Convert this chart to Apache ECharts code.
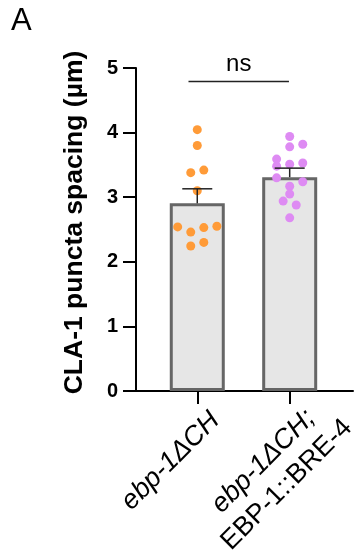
<!DOCTYPE html>
<html>
<head>
<meta charset="utf-8">
<script src="https://cdn.jsdelivr.net/npm/echarts@6/dist/echarts.min.js"></script>
<style>
html,body{margin:0;padding:0;background:#fff;}
#chart{width:357px;height:554px;}
</style>
</head>
<body>
<div id="chart"></div>
<script>
// ---- data ----
const categories = ['ebp-1ΔCH', 'ebp-1ΔCH;|EBP-1::BRE-4'];
const barMeans = [2.905, 3.31];
const barSEM = [0.225, 0.14];
const groupAValues = [4.045, 3.80, 3.38, 3.42, 3.10, 2.54, 2.46, 2.53, 2.55, 2.245, 2.30];
const groupASlots  = [0, 0, -1, 1, 0, -3, -1, 1, 3, -1, 1];
const groupBValues = [3.94, 3.78, 3.82, 3.59, 3.48, 3.51, 3.53, 3.30, 3.24, 3.17, 3.05, 2.94, 2.88, 2.68];
const groupBSlots  = [0, 0, 2, -2, -2, 0, 2, -2, 2, 0, 0, -1, 1, 0];
const yTicks = [0, 1, 2, 3, 4, 5];
const sigText = 'ns';
const sigLevel = 4.79;
const yTitle = 'CLA-1 puncta spacing (µm)';
const panelLabel = 'A';

const SLOT = 0.0707; // jitter step in category units
const FONT = 'Liberation Sans, Arial, Helvetica, sans-serif';
const X_MIN = -0.663, X_MAX = 1.685;

const chart = echarts.init(document.getElementById('chart'), null, {renderer: 'canvas'});

const barData = barMeans.map((v, i) => [i, v]);
const errData = barMeans.map((v, i) => [i, v, v + barSEM[i]]);
const ptsA = groupAValues.map((v, i) => [0 + groupASlots[i] * SLOT, v]);
const ptsB = groupBValues.map((v, i) => [1 + groupBSlots[i] * SLOT, v]);

function labelText(i) {
  const parts = categories[i].split('|');
  if (parts.length === 1) return '{a|' + parts[0] + '}';
  return '{a|' + parts[0] + '}\n{c|' + parts[1] + '}';
}
const richStyles = {
  a: {fontFamily: FONT, fontSize: 27, fontStyle: 'italic', color: '#000', lineHeight: 33},
  c: {fontFamily: FONT, fontSize: 27, color: '#000', lineHeight: 33}
};
function labelAxis(i, pos, margin) {
  return {
    type: 'value', min: X_MIN, max: X_MAX, position: 'bottom',
    splitLine: {show: false},
    axisLine: {show: false}, axisTick: {show: false},
    axisLabel: {
      customValues: [pos], rotate: 45, margin: margin,
      align: 'center', verticalAlign: 'middle',
      formatter: () => labelText(i), rich: richStyles
    }
  };
}

const option = {
  animation: false,
  backgroundColor: '#fff',
  graphic: [{
    type: 'text', left: 11, top: 6,
    style: {text: panelLabel, font: '31px ' + FONT, fill: '#000'}
  }],
  grid: {left: 136, right: 4, top: 68, bottom: 163, containLabel: false, outerBoundsMode: 'none'},
  xAxis: [
    {
      type: 'value', min: X_MIN, max: X_MAX,
      splitLine: {show: false},
      axisLine: {show: true, onZero: false, lineStyle: {color: '#000', width: 2}},
      axisTick: {show: true, customValues: [0, 1], length: 13, lineStyle: {color: '#000', width: 2}},
      axisLabel: {show: false}
    },
    labelAxis(0, -0.288, 70),
    labelAxis(1, 0.842, 82)
  ],
  yAxis: {
    type: 'value', min: 0, max: 5, interval: 1,
    splitLine: {show: false},
    axisLine: {show: true, onZero: false, lineStyle: {color: '#000', width: 2}},
    axisTick: {show: true, length: 13, lineStyle: {color: '#000', width: 2}},
    axisLabel: {
      margin: 18, color: '#000', fontFamily: FONT, fontWeight: 'bold', fontSize: 20,
      formatter: v => yTicks.indexOf(v) >= 0 ? String(v) : ''
    },
    name: yTitle, nameLocation: 'middle', nameGap: 48,
    nameTextStyle: {fontFamily: FONT, fontWeight: 'bold', fontSize: 26.5, color: '#000', padding: [0, 0, 0, 14]}
  },
  series: [
    {
      type: 'bar', data: barData, barWidth: 55, z: 1,
      itemStyle: {color: '#e6e6e6', borderColor: '#666', borderWidth: 3}
    },
    {
      type: 'scatter', data: ptsA, symbolSize: 9, z: 3,
      itemStyle: {color: '#FF9B38', opacity: 1}
    },
    {
      type: 'scatter', data: ptsB, symbolSize: 9, z: 3,
      itemStyle: {color: '#DE8BF3', opacity: 1}
    },
    {
      type: 'custom', data: errData, z: 5,
      renderItem: function (params, api) {
        const x = api.value(0);
        const p0 = api.coord([x, api.value(1)]);
        const p1 = api.coord([x, api.value(2)]);
        return {
          type: 'group',
          children: [
            {type: 'line', shape: {x1: p0[0], y1: p0[1], x2: p1[0], y2: p1[1]}, style: {stroke: '#222', lineWidth: 1.5}},
            {type: 'line', shape: {x1: p1[0] - 15, y1: p1[1], x2: p1[0] + 15, y2: p1[1]}, style: {stroke: '#222', lineWidth: 1.5}}
          ]
        };
      }
    },
    {
      type: 'custom', data: [[-0.095, 0.992, sigLevel]], z: 5,
      renderItem: function (params, api) {
        const a = api.coord([api.value(0), api.value(2)]);
        const b = api.coord([api.value(1), api.value(2)]);
        return {
          type: 'group',
          children: [
            {type: 'line', shape: {x1: a[0], y1: a[1], x2: b[0], y2: b[1]}, style: {stroke: '#222', lineWidth: 1.5}},
            {type: 'text', x: (a[0] + b[0]) / 2, y: a[1] - 5,
             style: {text: sigText, font: '24px ' + FONT, fill: '#000', align: 'center', verticalAlign: 'bottom'}}
          ]
        };
      }
    }
  ]
};
chart.setOption(option);
</script>
</body>
</html>
